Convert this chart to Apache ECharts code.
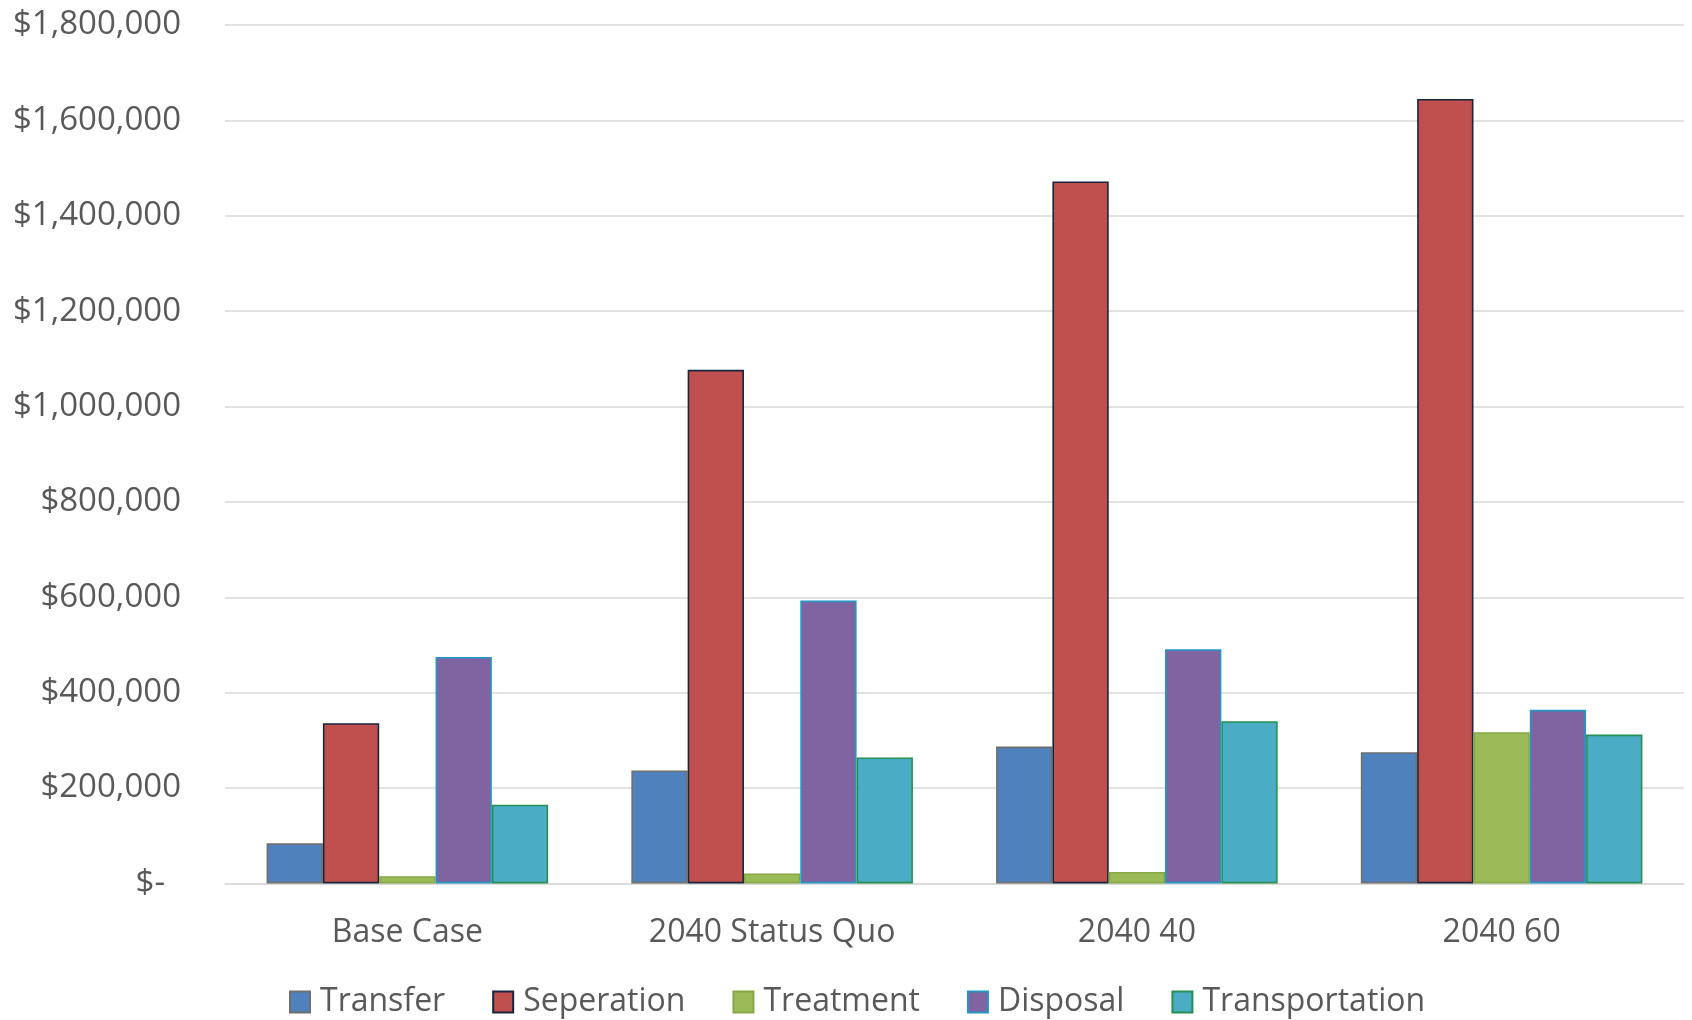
<!DOCTYPE html>
<html>
<head>
<meta charset="utf-8">
<script src="https://cdn.jsdelivr.net/npm/echarts@6/dist/echarts.min.js"></script>
<style>
  html, body { margin: 0; padding: 0; background: #ffffff; }
  #chart { width: 1692px; height: 1020px; }
</style>
</head>
<body>
<div id="chart"></div>
<script>
// Scenario categories
const categories = ['Base Case', '2040 Status Quo', '2040 40', '2040 60'];

// Cost components per scenario (USD)
const transfer       = [84000, 237000, 287000, 275000];
const seperation     = [336000, 1077000, 1472000, 1645000];
const treatment      = [15000, 21000, 24000, 317000];
const disposal       = [475000, 593000, 491000, 364000];
const transportation = [165000, 264000, 340000, 312000];

// Y axis ticks
const yMin = 0;
const yMax = 1800000;
const yStep = 200000;

const seriesDefs = [
  { name: 'Transfer',       data: transfer,       color: '#4F81BD', border: '#6f6f6f' },
  { name: 'Seperation',     data: seperation,     color: '#C0504D', border: '#17253d' },
  { name: 'Treatment',      data: treatment,      color: '#9BBB59', border: '#86a845' },
  { name: 'Disposal',       data: disposal,       color: '#8064A2', border: '#2596c4' },
  { name: 'Transportation', data: transportation, color: '#4BACC6', border: '#259052' }
];

const font = '"Open Sans", "Liberation Sans", sans-serif';
const textColor = '#595959';

function money(v) {
  if (v === 0) return '{dash|$-}';
  return '$' + v.toLocaleString('en-US');
}

const chart = echarts.init(document.getElementById('chart'), null, { renderer: 'canvas' });

chart.setOption({
  animation: false,
  backgroundColor: '#ffffff',
  grid: { left: 225, right: 8, top: 25, bottom: 136.6, containLabel: false },
  xAxis: {
    type: 'category',
    data: categories,
    axisLine: { show: true, lineStyle: { color: '#d9d9d9', width: 1.5 } },
    axisTick: { show: false },
    axisLabel: { color: textColor, fontFamily: font, fontSize: 32, margin: 33 }
  },
  yAxis: {
    type: 'value',
    min: yMin,
    max: yMax,
    interval: yStep,
    axisLine: { show: false },
    axisTick: { show: false },
    splitLine: { lineStyle: { color: '#d9d9d9', width: 1.5 } },
    axisLabel: {
      color: textColor,
      fontFamily: font,
      fontSize: 33,
      margin: 44,
      formatter: money,
      rich: { dash: { color: textColor, fontFamily: font, fontSize: 33, padding: [0, 16, 0, 0] } }
    }
  },
  legend: {
    data: seriesDefs.map(s => s.name),
    left: 284,
    top: 981,
    icon: 'rect',
    itemWidth: 20,
    itemHeight: 21,
    itemGap: 47,
    textStyle: { color: textColor, fontFamily: font, fontSize: 32, padding: [0, 0, 0, 5] }
  },
  series: seriesDefs.map(s => ({
    name: s.name,
    type: 'bar',
    data: s.data,
    barGap: '0%',
    barCategoryGap: '22.8%',
    itemStyle: { color: s.color, borderColor: s.border, borderWidth: 1.6 }
  }))
});
</script>
</body>
</html>
